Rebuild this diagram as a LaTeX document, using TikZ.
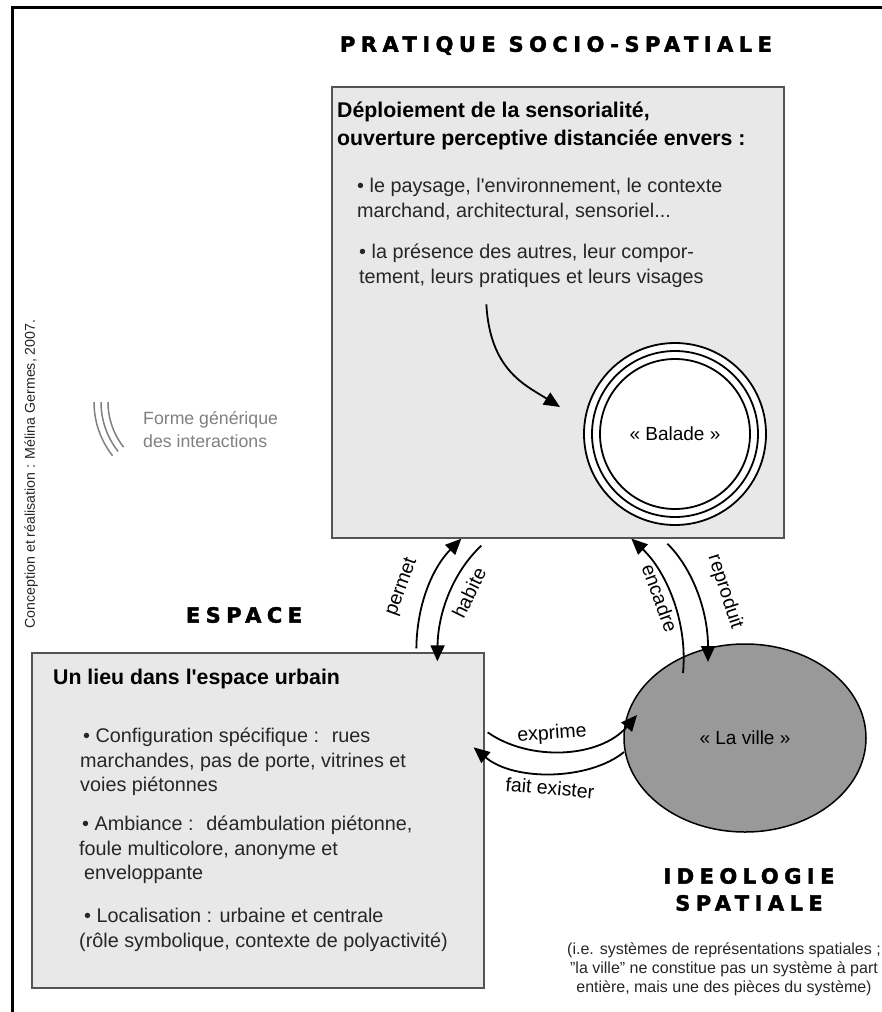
\documentclass[tikz,border=0pt]{standalone}
\usepackage{fontspec}
\setmainfont{Liberation Sans}
\newfontfamily\heavyfont[LetterSpace=26,FakeBold=2]{DejaVu Sans Bold}
\usetikzlibrary{shapes.geometric,arrows.meta,calc}

\begin{document}
\begin{tikzpicture}[x=1pt,y=-1pt]
	\tikzstyle{zone}=[rectangle, draw=black!67, line width=1.3, fill=black!9, inner sep=0pt]
	\tikzstyle{ring}=[circle, draw, line width=1.8, inner sep=0pt]
	\tikzstyle{titre}=[font=\heavyfont\fontsize{21}{27}\selectfont, align=center, inner sep=0pt]
	\tikzstyle{chapo}=[anchor=north west, align=left, inner sep=0pt, font=\bfseries\fontsize{21.3}{28}\selectfont]
	\tikzstyle{txt}=[anchor=north west, align=left, inner sep=0pt, text=black!85, font=\fontsize{19.8}{24.5}\selectfont]
	\tikzstyle{verbe}=[inner sep=0pt, font=\fontsize{19.5}{20}\selectfont]
	\tikzstyle{link}=[line width=1.8, -{Triangle[length=16pt,width=14pt]}]
	\tikzstyle{trace}=[draw=black!50, line width=1.5]

	\useasboundingbox (0,0) rectangle (882,1012);
	\draw[line width=3] (12,1012) -- (12,7) -- (882,7);

	\node[zone, minimum width=452, minimum height=451] (pratique) at (558,312.5) {};
	\node[zone, minimum width=452, minimum height=335] (espace) at (258,820.5) {};
	\node[ellipse, draw, line width=1.5, fill=black!40, minimum width=242, minimum height=188, inner sep=0pt] (ville) at (745,738) {};
	\node[font=\fontsize{19}{20}\selectfont] (villetxt) at (ville) {« La ville »};

	\node[ring, fill=white, minimum size=182] (balade3) at (675,434) {};
	\node[ring, minimum size=166] (balade2) at (675,434) {};
	\node[ring, minimum size=150, font=\fontsize{19}{20}\selectfont] (balade) at (675,434) {« Balade »};

	\node[titre] (tpratique) at (556,45.5) {PRATIQUE SOCIO-SPATIALE};
	\node[titre] (tespace) at (244,615) {ESPACE};
	\node[titre] (tideo) at (749,889.5) {IDEOLOGIE\\SPATIALE};

	\node[chapo] (chapo1) at (337,101.5) {Déploiement de la sensorialité,\\ouverture perceptive distanciée envers :};
	\node[txt] (paysage) at (357,178) {•~le paysage, l\textquotesingle environnement, le contexte\\marchand, architectural, sensoriel...};
	\node[txt] (autres) at (359,244) {•~la présence des autres, leur compor-\\tement, leurs pratiques et leurs visages};

	\node[chapo] (chapo2) at (53,669) {Un lieu dans l\textquotesingle espace urbain};
	\node[txt] (config) at (80,728) {\hspace*{3pt}•~Configuration spécifique :~ rues\\marchandes, pas de porte, vitrines et\\voies piétonnes};
	\node[txt] (ambiance) at (79,816) {\hspace*{3pt}•~Ambiance :~ déambulation piétonne,\\foule multicolore, anonyme et\\\hspace*{5pt}enveloppante};
	\node[txt] (local) at (79,908) {\hspace*{5pt}•~Localisation : urbaine et centrale\\(rôle symbolique, contexte de polyactivité)};

	\node[rotate=90, text=black!85, font=\fontsize{14.2}{16}\selectfont] (credit) at (31,474) {Conception et réalisation : Mélina Germes, 2007.};

	\begin{scope}
		\clip (181,402) -- (60,402) -- (60,497) -- cycle;
		\foreach \r in {87,80,73}
			\draw[trace] (181,402) circle (\r);
	\end{scope}
	\node[anchor=north west, align=left, inner sep=0pt, text=black!50, font=\fontsize{17.7}{23}\selectfont] (legende) at (143,411) {Forme générique\\des interactions};

	\node[align=center, inner sep=0pt, text=black!85, font=\fontsize{16}{19}\selectfont] (precision) at (724,969) {(i.e. systèmes de représentations spatiales ;\\"la ville" ne constitue pas un système à part\\entière, mais une des pièces du système)};

	\draw[link] ($(pratique.north west)+(155,218)$) .. controls (490,370) and (525,385) .. ($(balade.center)+(-115,-27)$);
	\draw[link] ($(espace.north west)+(385,-4)$) .. controls (417,600) and (435,565) .. ($(pratique.south west)+(130,0)$);
	\draw[link] ($(pratique.south west)+(150,7)$) .. controls (455,570) and (438,610) .. ($(espace.north west)+(406,9)$);
	\draw[link] ($(ville.center)+(-62,-65)$) .. controls (688,620) and (665,570) .. ($(pratique.south west)+(300,0)$);
	\draw[link] ($(pratique.south west)+(336,5)$) .. controls (692,568) and (708,610) .. ($(ville.center)+(-37,-76)$);
	\draw[link] ($(espace.north east)+(3,80)$) .. controls (530,762) and (600,758) .. ($(ville.center)+(-108,-23)$);
	\draw[link] ($(ville.center)+(-121,14)$) .. controls (590,780) and (515,782) .. ($(espace.north east)+(-11,95)$);

	\node[verbe, rotate=70] (lpermet) at (402,587) {permet};
	\node[verbe, rotate=64] (lhabite) at (469,593) {habite};
	\node[verbe, rotate=-70] (lencadre) at (660,598) {encadre};
	\node[verbe, rotate=-72] (lreproduit) at (725,592) {reproduit};
	\node[verbe, rotate=4] (lexprime) at (552,734) {exprime};
	\node[verbe, rotate=-5] (lfait) at (550,788) {fait exister};
\end{tikzpicture}
\end{document}
